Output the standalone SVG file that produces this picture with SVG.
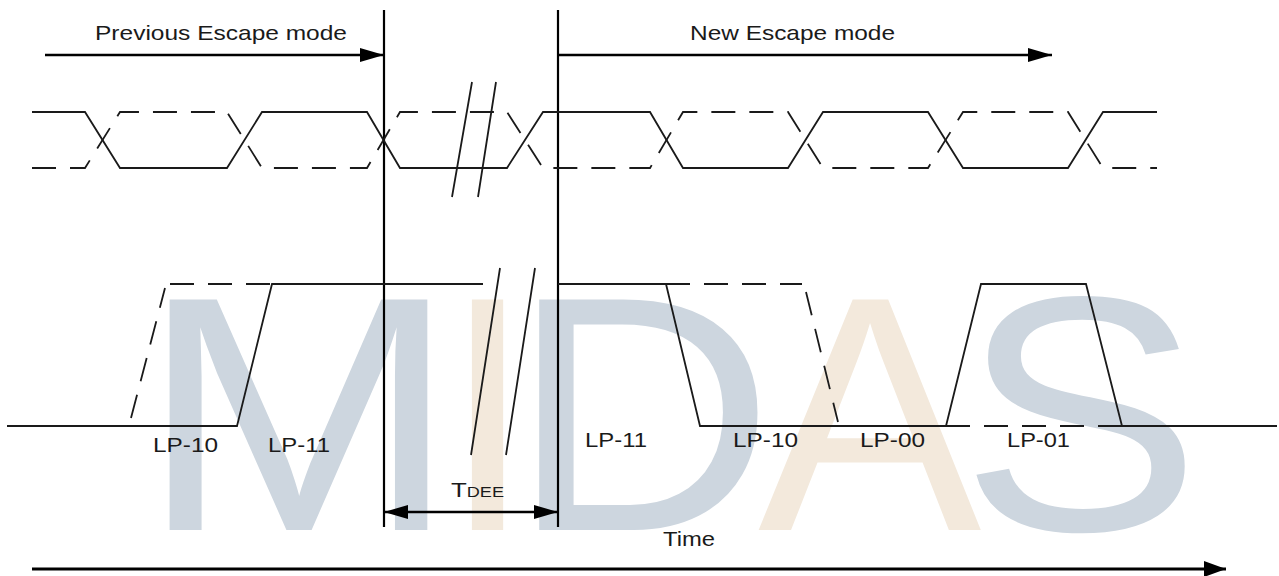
<svg xmlns="http://www.w3.org/2000/svg" width="1279" height="576" viewBox="0 0 1279 576">
<style>
.wm{font-family:"Liberation Sans",Arial,sans-serif;font-size:335px}
.wb{fill:#cdd6df}
.wy{fill:#f3e9dc}
.sig{fill:none;stroke:#1a1a1a;stroke-width:1.8;stroke-linejoin:miter}
.dash{fill:none;stroke:#1a1a1a;stroke-width:1.8;stroke-dasharray:24 14}
.vl{stroke:#000;stroke-width:2.2}
.arr{fill:none;stroke:#000;stroke-width:2.5}
.lbl{font-family:"Liberation Sans",Arial,sans-serif;font-size:20px;fill:#1a1a1a}
.hd{font-family:"Liberation Sans",Arial,sans-serif;font-size:21px;fill:#1a1a1a}
</style>
<defs>
<marker id="ah" markerUnits="userSpaceOnUse" markerWidth="26" markerHeight="18" refX="24" refY="8" orient="auto">
<path d="M0,1 L24,8 L0,15 Z" fill="#000"/>
</marker>
<marker id="ahs" markerUnits="userSpaceOnUse" markerWidth="26" markerHeight="18" refX="24" refY="8" orient="auto-start-reverse">
<path d="M0,1 L24,8 L0,15 Z" fill="#000"/>
</marker>
<marker id="ahb" markerUnits="userSpaceOnUse" markerWidth="24" markerHeight="20" refX="22" refY="9" orient="auto">
<path d="M0,1 L22,9 L0,17 Z" fill="#000"/>
</marker>
</defs>
<rect width="1279" height="576" fill="#fff"/>
<g id="watermark">
<text class="wm wb" x="0" y="530" transform="translate(138,0) scale(1.15,1)">M</text>
<text class="wm wy" x="441" y="530">I</text>
<text class="wm wb" x="509" y="530" transform="translate(509,0) scale(1.1,1) translate(-509,0)">D</text>
<text class="wm wy" x="758" y="530">A</text>
<text class="wm wb" x="960" y="530" transform="translate(960,0) scale(1.08,1) translate(-960,0)">S</text>
</g>
<g id="connectors">
<line id="boundary-left" class="vl" x1="384" y1="10" x2="384" y2="527"/>
<line id="boundary-right" class="vl" x1="558" y1="10" x2="558" y2="527"/>
<path id="arrow-prev" class="arr" d="M45,55 H384" marker-end="url(#ah)"/>
<path id="arrow-new" class="arr" d="M558,55 H1052" marker-end="url(#ah)"/>
<path id="arrow-tdee" class="arr" d="M384,512 H558" marker-start="url(#ahs)" marker-end="url(#ahs)"/>
<path id="arrow-time" class="arr" style="stroke-width:3" d="M32,569 H1226" marker-end="url(#ahb)"/>
</g>
<g id="signal-top">
<path class="sig" d="M32,112 H85 L120,168 H227 L262,112 H367 L400,168 H507 L543,112 H650 L683,168 H788 L823,112 H928 L963,168 H1068 L1103,112 H1157"/>
<path class="dash" d="M32,168 H85 L120,112 H227 L262,168 H367 L400,112 H507 L543,168 H650 L683,112 H788 L823,168 H928 L963,112 H1068 L1103,168 H1157"/>
<path class="sig" d="M472,82 L452,197 M496,82 L478,197"/>
</g>
<g id="signal-bottom">
<path class="sig" d="M7,426 H237 L272,284 H483"/>
<path class="sig" d="M558,284 H666 L700,426 H946 L981,284 H1086 L1122,426 H1277"/>
<path class="dash" d="M131,418 L165,288 M170,284 H272"/>
<path class="dash" d="M666,284 H802 M806,292 L838,422 M946,426 H1122"/>
<path class="sig" d="M500,268 L471,455 M535,268 L506,455"/>
</g>
<g id="labels">
<text class="hd" x="95" y="40" textLength="252" lengthAdjust="spacingAndGlyphs">Previous Escape mode</text>
<text class="hd" x="690" y="40" textLength="205" lengthAdjust="spacingAndGlyphs">New Escape mode</text>
<text class="lbl" x="153" y="452" textLength="65" lengthAdjust="spacingAndGlyphs">LP-10</text>
<text class="lbl" x="268" y="452" textLength="62" lengthAdjust="spacingAndGlyphs">LP-11</text>
<text class="lbl" x="585" y="447" textLength="62" lengthAdjust="spacingAndGlyphs">LP-11</text>
<text class="lbl" x="733" y="447" textLength="65" lengthAdjust="spacingAndGlyphs">LP-10</text>
<text class="lbl" x="860" y="447" textLength="65" lengthAdjust="spacingAndGlyphs">LP-00</text>
<text class="lbl" x="1007" y="447" textLength="63" lengthAdjust="spacingAndGlyphs">LP-01</text>
<text class="lbl" x="451" y="497" textLength="53" lengthAdjust="spacingAndGlyphs">T<tspan style="font-size:14px">DEE</tspan></text>
<text class="lbl" x="663" y="546" textLength="52" lengthAdjust="spacingAndGlyphs">Time</text>
</g>
</svg>
